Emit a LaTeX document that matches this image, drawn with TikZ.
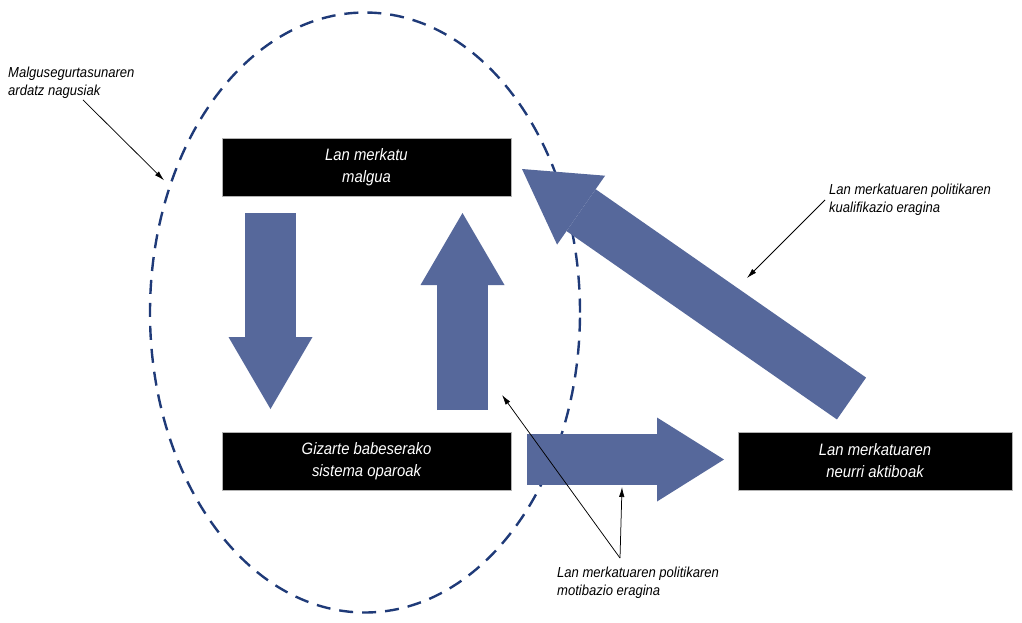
\documentclass[tikz,border=0pt]{standalone}
\usepackage{fontspec}
\setmainfont{Liberation Sans}[FakeStretch=0.9]
\usetikzlibrary{arrows.meta,shapes.geometric}
\definecolor{arrowblue}{RGB}{86,104,155}
\definecolor{ellblue}{RGB}{31,58,120}

\begin{document}
\begin{tikzpicture}[x=1pt, y=-1pt,
  box/.style={draw=gray!60, fill=black, text=white, minimum width=289pt, minimum height=58pt,
    align=center, font=\fontsize{16.5}{22}\selectfont\itshape},
  note/.style={inner sep=0pt, align=left, font=\fontsize{14.5}{18}\selectfont\itshape},
  bigarrow/.style={arrowblue, line width=51pt, -{Triangle[length=72pt, width=84pt, line width=0pt]}},
  pointer/.style={line width=0.75pt, -{Latex[length=10pt, width=5.5pt]}}]
  \useasboundingbox (0,0) rectangle (1022,622);
  \node[ellipse, draw=ellblue, line width=2.4pt, dash pattern=on 14pt off 9pt,
    minimum width=430pt, minimum height=600pt, inner sep=0pt] (ardatz) at (365,312.5) {};
  \node[box] (malgua) at (366.5,167) {Lan merkatu\\malgua};
  \node[box] (babes) at (366.5,461) {Gizarte babeserako\\sistema oparoak};
  \node[box, minimum width=274pt] (neurri) at (875,461) {Lan merkatuaren\\neurri aktiboak};
  \node[note, anchor=north west] (ardatzlbl) at (8,67) {Malgusegurtasunaren\\ardatz nagusiak};
  \node[note, anchor=north west] (kuallbl) at (829,184) {Lan merkatuaren politikaren\\kualifikazio eragina};
  \node[note, anchor=north west] (motiblbl) at (557,567) {Lan merkatuaren politikaren\\motibazio eragina};
  % ends of the big arrows
  \coordinate (a0) at (270.5,213);  \coordinate (a1) at (270.5,409);
  \coordinate (b0) at (462.5,410);  \coordinate (b1) at (462.5,213);
  \coordinate (c0) at (527,459.5);  \coordinate (c1) at (724,459.5);
  \coordinate (d0) at (851.5,398.5); \coordinate (d1) at (522,169);
  \draw[bigarrow] (a0) -- (a1);
  \draw[bigarrow] (b0) -- (b1);
  \draw[bigarrow, -{Triangle[length=67pt, width=84pt, line width=0pt]}] (c0) -- (c1);
  \draw[bigarrow] (d0) -- (d1);
  % pointers
  \coordinate (kualend) at (747,278);
  \coordinate (motibend) at (622,487);
  \coordinate (babesend) at (502,395);
  \draw[pointer, shorten >=7pt] ([shift={(75,1)}]ardatzlbl.south west) -- (ardatz.147.5);
  \draw[pointer] ([xshift=-4pt]kuallbl.west) -- (kualend);
  \draw[pointer] ([shift={(63,-9)}]motiblbl.north west) -- (motibend);
  \draw[pointer] ([shift={(63,-9)}]motiblbl.north west) -- (babesend);
\end{tikzpicture}
\end{document}
